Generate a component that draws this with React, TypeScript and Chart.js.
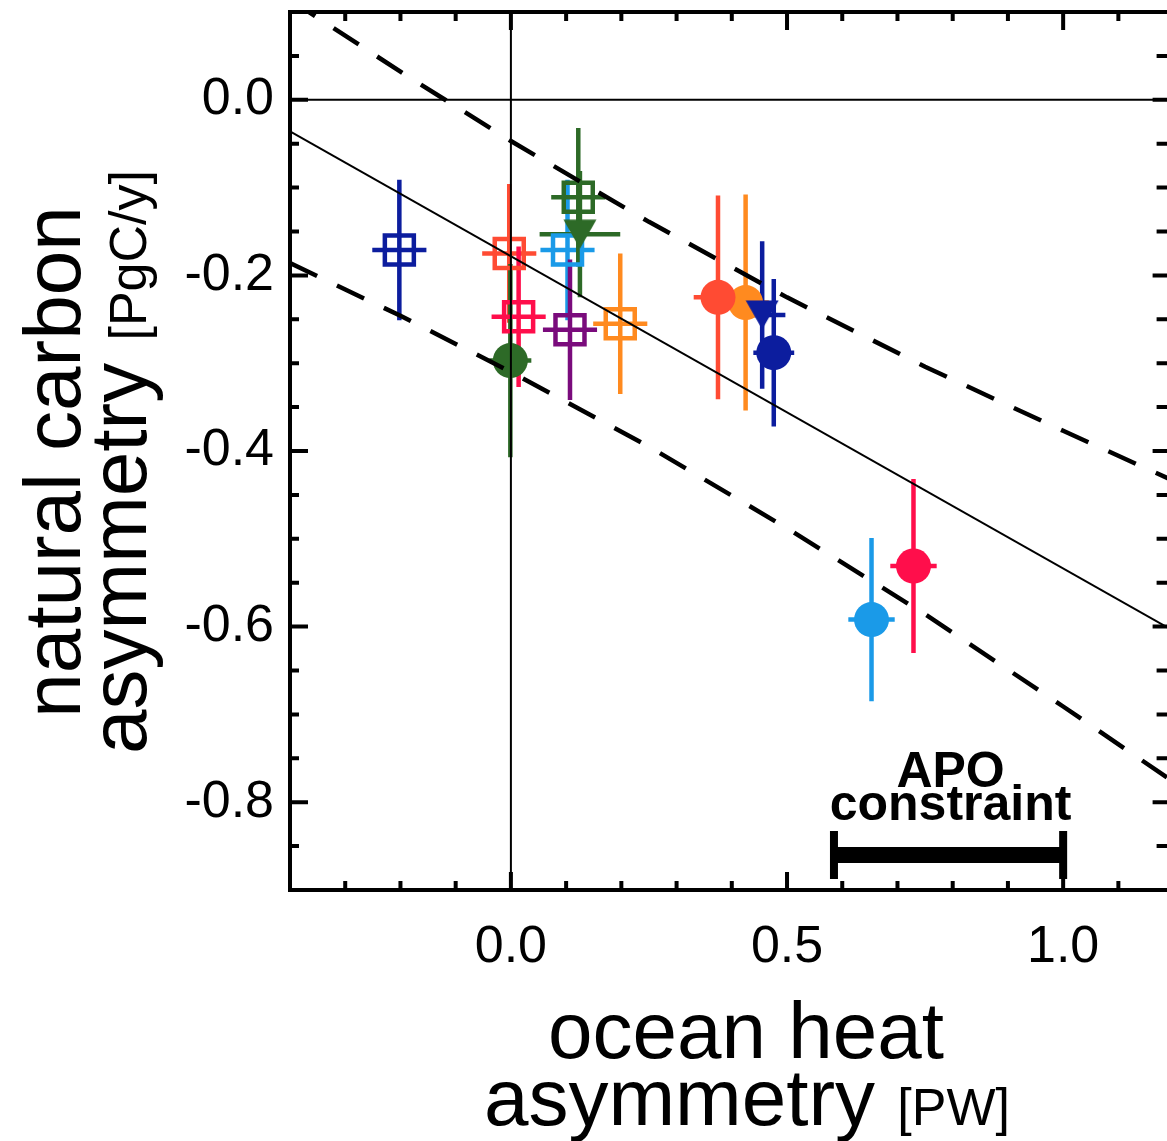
import React, { useEffect, useRef } from 'react';
import { Chart, registerables } from 'chart.js';

Chart.register(...registerables);

const FONT = '"Liberation Sans", Arial, Helvetica, sans-serif';

// ---- model points (ocean heat asymmetry [PW], natural carbon asymmetry [PgC/y]) ----
const modelX = [-0.202, -0.003, 0.1025, -0.001, 0.014, 0.107, 0.198, 0.122, 0.125, 0.425, 0.375, 0.455, 0.476, 0.653, 0.729];
const modelY = [-0.171, -0.175, -0.171, -0.297, -0.247, -0.262, -0.255, -0.111, -0.153, -0.231, -0.225, -0.245, -0.288, -0.592, -0.531];
const modelXErr = [0.049, 0.049, 0.049, 0.038, 0.049, 0.049, 0.049, 0.049, 0.073, 0.042, 0.044, 0.042, 0.037, 0.042, 0.042];
const modelYErr = [0.080, 0.079, 0.080, 0.110, 0.080, 0.080, 0.080, 0.079, 0.072, 0.123, 0.116, 0.084, 0.084, 0.093, 0.099];
const modelColor = ['#0c1d9e', '#ff4b33', '#1a9ae8', '#2d6a27', '#ff0e4b', '#7a0b7c', '#ff8a1f', '#2d6a27', '#2d6a27', '#ff8a1f', '#ff4b33', '#0c1d9e', '#0c1d9e', '#1a9ae8', '#ff0e4b'];
const modelShape = ['square', 'square', 'square', 'circle', 'square', 'square', 'square', 'square', 'triangle', 'circle', 'circle', 'triangle', 'circle', 'circle', 'circle'];

// ---- regression line and its band ----
const fitX = [-0.4, 1.2];
const fitY = [-0.036, -0.605];
const bandX = [-0.4, -0.2, 0, 0.25, 0.5, 0.75, 1.0, 1.2];
const bandUpper = [0.114, 0.032, -0.047, -0.139, -0.225, -0.304, -0.377, -0.434];
const bandLower = [-0.186, -0.246, -0.31, -0.395, -0.488, -0.586, -0.691, -0.777];

// ---- APO constraint ----
const apoRange = [0.585, 1.0];
const apoLevel = [-0.86];
const apoLabel = ['APO', 'constraint'];

// ---- axes ----
const xRange = [-0.4, 1.2];
const yRange = [-0.9, 0.1];
const xTickValues = [0, 0.5, 1.0];
const xTickLabels = ['0.0', '0.5', '1.0'];
const xMinorTicks = [-0.3, -0.2, -0.1, 0.1, 0.2, 0.3, 0.4, 0.6, 0.7, 0.8, 0.9, 1.1];
const yTickValues = [0, -0.2, -0.4, -0.6, -0.8];
const yTickLabels = ['0.0', '-0.2', '-0.4', '-0.6', '-0.8'];
const yMinorTicks = [0.05, -0.05, -0.1, -0.15, -0.25, -0.3, -0.35, -0.45, -0.5, -0.55, -0.65, -0.7, -0.75, -0.85];

const xTitleLines = ['ocean heat', 'asymmetry'];
const xTitleUnit = '[PW]';
const yTitleLines = ['natural carbon', 'asymmetry'];
const yTitleUnit = '[PgC/y]';

const CANVAS_W = 1180;
const CANVAS_H = 1141;

function makeTriangle(color: string): HTMLCanvasElement {
  const c = document.createElement('canvas');
  c.width = 34;
  c.height = 30;
  const g = c.getContext('2d')!;
  g.fillStyle = color;
  g.beginPath();
  g.moveTo(0.5, 0.5);
  g.lineTo(33.5, 0.5);
  g.lineTo(17, 29.5);
  g.closePath();
  g.fill();
  return c;
}

function drawParts(ctx: CanvasRenderingContext2D, parts: [string, string][], cx: number, baseline: number) {
  ctx.textAlign = 'left';
  ctx.textBaseline = 'alphabetic';
  let total = 0;
  const widths: number[] = [];
  for (const [t, f] of parts) {
    ctx.font = f;
    const w = ctx.measureText(t).width;
    widths.push(w);
    total += w;
  }
  let xx = cx - total / 2;
  parts.forEach(([t, f], i) => {
    ctx.font = f;
    ctx.fillText(t, xx, baseline);
    xx += widths[i];
  });
}

const decorPlugin = {
  id: 'decor',
  beforeDatasetsDraw(chart: any) {
    const { ctx, scales } = chart;
    const x = scales.x;
    const y = scales.y;
    ctx.save();
    ctx.lineCap = 'butt';
    ctx.lineWidth = 4.5;
    for (let i = 0; i < modelX.length; i++) {
      const px = x.getPixelForValue(modelX[i]);
      const py = y.getPixelForValue(modelY[i]);
      ctx.strokeStyle = modelColor[i];
      ctx.beginPath();
      ctx.moveTo(px, y.getPixelForValue(modelY[i] + modelYErr[i]));
      ctx.lineTo(px, y.getPixelForValue(modelY[i] - modelYErr[i]));
      ctx.moveTo(x.getPixelForValue(modelX[i] - modelXErr[i]), py);
      ctx.lineTo(x.getPixelForValue(modelX[i] + modelXErr[i]), py);
      ctx.stroke();
    }
    ctx.restore();
  },
  afterDatasetsDraw(chart: any) {
    const { ctx, chartArea: a, scales } = chart;
    const x = scales.x;
    const y = scales.y;
    ctx.save();
    ctx.strokeStyle = '#000';
    ctx.fillStyle = '#000';
    ctx.lineCap = 'butt';
    // frame
    ctx.lineWidth = 4;
    ctx.beginPath();
    ctx.moveTo(a.left, a.top - 2);
    ctx.lineTo(a.left, a.bottom + 2);
    ctx.moveTo(a.left - 2, a.bottom);
    ctx.lineTo(a.right + 2, a.bottom);
    ctx.moveTo(a.left - 2, a.top);
    ctx.lineTo(a.right + 2, a.top);
    ctx.moveTo(a.right, a.top - 2);
    ctx.lineTo(a.right, a.bottom + 2);
    ctx.stroke();
    // ticks
    ctx.lineWidth = 4;
    ctx.beginPath();
    const xt = (v: number, len: number) => {
      const p = x.getPixelForValue(v);
      ctx.moveTo(p, a.bottom);
      ctx.lineTo(p, a.bottom - len);
      ctx.moveTo(p, a.top);
      ctx.lineTo(p, a.top + len);
    };
    xMinorTicks.forEach((v) => xt(v, 9));
    xTickValues.forEach((v) => xt(v, 18));
    const yt = (v: number, len: number, rlen: number) => {
      const p = y.getPixelForValue(v);
      ctx.moveTo(a.left, p);
      ctx.lineTo(a.left + len, p);
      ctx.moveTo(a.right, p);
      ctx.lineTo(a.right - rlen, p);
    };
    yMinorTicks.forEach((v) => yt(v, 9, 17));
    yTickValues.forEach((v) => yt(v, 18, 21));
    ctx.stroke();

    // APO constraint bar
    const x0 = x.getPixelForValue(apoRange[0]);
    const x1 = x.getPixelForValue(apoRange[1]);
    const yb = y.getPixelForValue(apoLevel[0]);
    ctx.lineWidth = 16;
    ctx.beginPath();
    ctx.moveTo(x0, yb);
    ctx.lineTo(x1, yb);
    ctx.stroke();
    ctx.lineWidth = 8;
    ctx.beginPath();
    ctx.moveTo(x0, yb - 24);
    ctx.lineTo(x0, yb + 24);
    ctx.moveTo(x1, yb - 24);
    ctx.lineTo(x1, yb + 24);
    ctx.stroke();
    const cx = (x0 + x1) / 2 + 2;
    ctx.font = 'bold 50px ' + FONT;
    ctx.textAlign = 'center';
    ctx.textBaseline = 'alphabetic';
    ctx.fillText(apoLabel[0], cx, yb - 68);
    ctx.fillText(apoLabel[1], cx, yb - 35);
    ctx.restore();
  },
  afterDraw(chart: any) {
    const { ctx } = chart;
    ctx.save();
    ctx.fillStyle = '#000';
    const big = '80px ' + FONT;
    const small = '52px ' + FONT;
    // x title
    drawParts(ctx, [[xTitleLines[0], big]], 746, 1058);
    drawParts(ctx, [[xTitleLines[1] + ' ', big], [xTitleUnit, small]], 747, 1125);
    // y title
    ctx.translate(80, 462);
    ctx.rotate(-Math.PI / 2);
    drawParts(ctx, [[yTitleLines[0], big]], 0, 0);
    ctx.restore();
    ctx.save();
    ctx.fillStyle = '#000';
    ctx.translate(146, 462);
    ctx.rotate(-Math.PI / 2);
    drawParts(ctx, [[yTitleLines[1] + ' ', big], [yTitleUnit, small]], 0, 0);
    ctx.restore();
  },
};

export default function App() {
  const ref = useRef<HTMLCanvasElement>(null);

  useEffect(() => {
    document.body.style.margin = '0';
    document.body.style.overflow = 'hidden';
    const canvas = ref.current!;
    const triCache: Record<string, HTMLCanvasElement> = {};
    const styles = modelShape.map((s, i) => {
      if (s === 'square') return 'rect';
      if (s === 'circle') return 'circle';
      const c = modelColor[i];
      if (!triCache[c]) triCache[c] = makeTriangle(c);
      return triCache[c];
    });
    const radii = modelShape.map((s) => (s === 'square' ? 20.5 : s === 'circle' ? 17.5 : 17));
    const bw = modelShape.map((s) => (s === 'square' ? 4.5 : 0));
    const bg = modelShape.map((s, i) => (s === 'square' ? 'rgba(0,0,0,0)' : modelColor[i]));

    const lineDs = (xs: number[], ys: number[], width: number, dash: number[], order: number) => ({
      type: 'scatter' as const,
      data: xs.map((v, i) => ({ x: v, y: ys[i] })),
      showLine: true,
      borderColor: '#000',
      borderWidth: width,
      borderDash: dash,
      pointRadius: 0,
      tension: 0,
      order,
    });

    const chart = new Chart(canvas, {
      type: 'scatter',
      data: {
        datasets: [
          {
            data: modelX.map((v, i) => ({ x: v, y: modelY[i] })),
            pointStyle: styles as any,
            pointRadius: radii,
            pointHoverRadius: 0,
            pointBorderWidth: bw,
            pointBorderColor: modelColor,
            pointBackgroundColor: bg,
            order: 3,
          } as any,
          lineDs(fitX, fitY, 2, [], 1),
          lineDs(bandX, bandUpper, 4.5, [30, 22], 1),
          lineDs(bandX, bandLower, 4.5, [30, 22], 1),
          lineDs(xRange, [0, 0], 2, [], 0),
          lineDs([0, 0], yRange, 2, [], 0),
        ],
      },
      options: {
        responsive: false,
        animation: false,
        devicePixelRatio: 1,
        events: [],
        layout: { autoPadding: false, padding: { top: 12, right: CANVAS_W - 1173.6, left: 0, bottom: 0 } },
        plugins: { legend: { display: false }, tooltip: { enabled: false }, title: { display: false } },
        scales: {
          x: {
            type: 'linear',
            min: xRange[0],
            max: xRange[1],
            grid: { display: false },
            border: { display: false },
            afterBuildTicks: (s: any) => {
              s.ticks = xTickValues.map((v) => ({ value: v }));
            },
            afterFit: (s: any) => {
              s.height = CANVAS_H - 890;
              s.paddingLeft = 0;
              s.paddingRight = 0;
              s.paddingTop = 0;
              s.paddingBottom = 0;
            },
            ticks: {
              color: '#000',
              font: { family: FONT, size: 52 },
              padding: 18,
              maxRotation: 0,
              autoSkip: false,
              callback: (v: any) => xTickLabels[xTickValues.indexOf(Number(v))] ?? '',
            },
          },
          y: {
            type: 'linear',
            min: yRange[0],
            max: yRange[1],
            grid: { display: false },
            border: { display: false },
            afterBuildTicks: (s: any) => {
              s.ticks = yTickValues.map((v) => ({ value: v }));
            },
            afterFit: (s: any) => {
              s.width = 290;
              s.paddingLeft = 0;
              s.paddingRight = 0;
              s.paddingTop = 0;
              s.paddingBottom = 0;
            },
            ticks: {
              color: '#000',
              font: { family: FONT, size: 52 },
              padding: 8,
              autoSkip: false,
              callback: (v: any) => yTickLabels[yTickValues.indexOf(Number(v))] ?? '',
            },
          },
        },
      },
      plugins: [decorPlugin],
    });
    return () => chart.destroy();
  }, []);

  return (
    <canvas
      ref={ref}
      width={CANVAS_W}
      height={CANVAS_H}
      style={{ position: 'fixed', left: 0, top: 0, display: 'block', background: '#fff' }}
    />
  );
}
